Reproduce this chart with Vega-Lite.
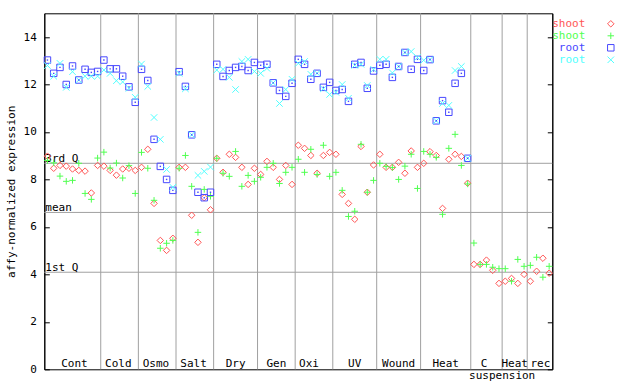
{
  "$schema": "https://vega.github.io/schema/vega-lite/v6.json",
  "width": 508,
  "height": 356,
  "autosize": {"type": "none"},
  "padding": {"left": 44.3, "top": 13.3, "right": 87.7, "bottom": 14.7},
  "background": "white",
  "config": {
    "view": {"stroke": "black", "strokeWidth": 1},
    "font": "DejaVu Sans Mono",
    "text": {"font": "DejaVu Sans Mono", "fontSize": 11}
  },
  "datasets": {
    "bounds": [{"b": 9.5}, {"b": 15.5}, {"b": 21.5}, {"b": 27.5}, {"b": 34.5}, {"b": 40.5}, {"b": 46.5}, {"b": 53.5}, {"b": 60.5}, {"b": 68.5}, {"b": 73.5}, {"b": 77.5}],
    "refs": [{"q": "3rd Q", "v": 8.68}, {"q": "mean", "v": 6.61}, {"q": "1st Q", "v": 4.09}],
    "groups": [{"g": "Cont", "c": 5.3}, {"g": "Cold", "c": 12.3}, {"g": "Osmo", "c": 18.3}, {"g": "Salt", "c": 24.3}, {"g": "Dry", "c": 31}, {"g": "Gen", "c": 37.5}, {"g": "Oxi", "c": 42.7}, {"g": "UV", "c": 50}, {"g": "Wound", "c": 57}, {"g": "Heat", "c": 64.5}, {"g": "C", "c": 70.6}, {"g": "Heat", "c": 75.5}, {"g": "rec", "c": 79.6}],
    "sub": [{"g": "suspension", "c": 73.5}],
    "expr": [
      {"i":1,"s":"shoot1","v":8.98},{"i":1,"s":"shoot2","v":8.8},{"i":1,"s":"root1","v":13.03},{"i":1,"s":"root2","v":12.8},
      {"i":2,"s":"shoot1","v":8.47},{"i":2,"s":"shoot2","v":8.7},{"i":2,"s":"root1","v":12.47},{"i":2,"s":"root2","v":12.35},
      {"i":3,"s":"shoot1","v":8.59},{"i":3,"s":"shoot2","v":8.14},{"i":3,"s":"root1","v":12.72},{"i":3,"s":"root2","v":12.89},
      {"i":4,"s":"shoot1","v":8.56},{"i":4,"s":"shoot2","v":7.92},{"i":4,"s":"root1","v":12.0},{"i":4,"s":"root2","v":11.88},
      {"i":5,"s":"shoot1","v":8.44},{"i":5,"s":"shoot2","v":7.96},{"i":5,"s":"root1","v":12.78},{"i":5,"s":"root2","v":12.54},
      {"i":6,"s":"shoot1","v":8.38},{"i":6,"s":"shoot2","v":8.68},{"i":6,"s":"root1","v":12.19},{"i":6,"s":"root2","v":12.19},
      {"i":7,"s":"shoot1","v":8.35},{"i":7,"s":"shoot2","v":7.41},{"i":7,"s":"root1","v":12.64},{"i":7,"s":"root2","v":12.35},
      {"i":8,"s":"shoot1","v":7.43},{"i":8,"s":"shoot2","v":7.16},{"i":8,"s":"root1","v":12.51},{"i":8,"s":"root2","v":12.35},
      {"i":9,"s":"shoot1","v":8.59},{"i":9,"s":"shoot2","v":8.9},{"i":9,"s":"root1","v":12.55},{"i":9,"s":"root2","v":12.35},
      {"i":10,"s":"shoot1","v":8.56},{"i":10,"s":"shoot2","v":9.15},{"i":10,"s":"root1","v":13.03},{"i":10,"s":"root2","v":12.61},
      {"i":11,"s":"shoot1","v":8.38},{"i":11,"s":"shoot2","v":8.48},{"i":11,"s":"root1","v":12.66},{"i":11,"s":"root2","v":12.47},
      {"i":12,"s":"shoot1","v":8.18},{"i":12,"s":"shoot2","v":8.69},{"i":12,"s":"root1","v":12.66},{"i":12,"s":"root2","v":12.16},
      {"i":13,"s":"shoot1","v":8.44},{"i":13,"s":"shoot2","v":8.06},{"i":13,"s":"root1","v":12.35},{"i":13,"s":"root2","v":12.11},
      {"i":14,"s":"shoot1","v":8.47},{"i":14,"s":"shoot2","v":8.58},{"i":14,"s":"root1","v":11.9},{"i":14,"s":"root2","v":11.84},
      {"i":15,"s":"shoot1","v":8.38},{"i":15,"s":"shoot2","v":7.41},{"i":15,"s":"root1","v":11.25},{"i":15,"s":"root2","v":11.46},
      {"i":16,"s":"shoot1","v":8.51},{"i":16,"s":"shoot2","v":9.14},{"i":16,"s":"root1","v":12.64},{"i":16,"s":"root2","v":12.86},
      {"i":17,"s":"shoot1","v":9.27},{"i":17,"s":"shoot2","v":8.47},{"i":17,"s":"root1","v":12.17},{"i":17,"s":"root2","v":11.92},
      {"i":18,"s":"shoot1","v":6.99},{"i":18,"s":"shoot2","v":7.12},{"i":18,"s":"root1","v":9.69},{"i":18,"s":"root2","v":10.61},
      {"i":19,"s":"shoot1","v":5.43},{"i":19,"s":"shoot2","v":5.1},{"i":19,"s":"root1","v":8.55},{"i":19,"s":"root2","v":9.69},
      {"i":20,"s":"shoot1","v":5.01},{"i":20,"s":"shoot2","v":5.31},{"i":20,"s":"root1","v":8.0},{"i":20,"s":"root2","v":8.42},
      {"i":21,"s":"shoot1","v":5.52},{"i":21,"s":"shoot2","v":5.43},{"i":21,"s":"root1","v":7.54},{"i":21,"s":"root2","v":7.67},
      {"i":22,"s":"shoot1","v":8.51},{"i":22,"s":"shoot2","v":8.47},{"i":22,"s":"root1","v":12.54},{"i":22,"s":"root2","v":12.47},
      {"i":23,"s":"shoot1","v":8.51},{"i":23,"s":"shoot2","v":9.01},{"i":23,"s":"root1","v":11.92},{"i":23,"s":"root2","v":11.82},
      {"i":24,"s":"shoot1","v":6.49},{"i":24,"s":"shoot2","v":7.71},{"i":24,"s":"root1","v":9.88},{"i":24,"s":"root2","v":9.88},
      {"i":25,"s":"shoot1","v":5.35},{"i":25,"s":"shoot2","v":5.77},{"i":25,"s":"root1","v":7.46},{"i":25,"s":"root2","v":8.17},
      {"i":26,"s":"shoot1","v":7.23},{"i":26,"s":"shoot2","v":7.58},{"i":26,"s":"root1","v":7.23},{"i":26,"s":"root2","v":8.34},
      {"i":27,"s":"shoot1","v":6.72},{"i":27,"s":"shoot2","v":7.29},{"i":27,"s":"root1","v":7.46},{"i":27,"s":"root2","v":8.52},
      {"i":28,"s":"shoot1","v":8.89},{"i":28,"s":"shoot2","v":8.89},{"i":28,"s":"root1","v":12.85},{"i":28,"s":"root2","v":12.61},
      {"i":29,"s":"shoot1","v":8.3},{"i":29,"s":"shoot2","v":8.26},{"i":29,"s":"root1","v":12.34},{"i":29,"s":"root2","v":12.64},
      {"i":30,"s":"shoot1","v":9.06},{"i":30,"s":"shoot2","v":8.13},{"i":30,"s":"root1","v":12.59},{"i":30,"s":"root2","v":12.3},
      {"i":31,"s":"shoot1","v":8.93},{"i":31,"s":"shoot2","v":9.18},{"i":31,"s":"root1","v":12.72},{"i":31,"s":"root2","v":11.79},
      {"i":32,"s":"shoot1","v":8.51},{"i":32,"s":"shoot2","v":7.71},{"i":32,"s":"root1","v":12.76},{"i":32,"s":"root2","v":12.97},
      {"i":33,"s":"shoot1","v":7.79},{"i":33,"s":"shoot2","v":8.17},{"i":33,"s":"root1","v":12.59},{"i":33,"s":"root2","v":13.06},
      {"i":34,"s":"shoot1","v":8.47},{"i":34,"s":"shoot2","v":7.92},{"i":34,"s":"root1","v":12.93},{"i":34,"s":"root2","v":12.55},
      {"i":35,"s":"shoot1","v":8.21},{"i":35,"s":"shoot2","v":8.09},{"i":35,"s":"root1","v":12.81},{"i":35,"s":"root2","v":12.47},
      {"i":36,"s":"shoot1","v":8.76},{"i":36,"s":"shoot2","v":8.51},{"i":36,"s":"root1","v":12.85},{"i":36,"s":"root2","v":12.68},
      {"i":37,"s":"shoot1","v":8.51},{"i":37,"s":"shoot2","v":8.68},{"i":37,"s":"root1","v":12.07},{"i":37,"s":"root2","v":12.07},
      {"i":38,"s":"shoot1","v":8.0},{"i":38,"s":"shoot2","v":7.83},{"i":38,"s":"root1","v":11.75},{"i":38,"s":"root2","v":11.2},
      {"i":39,"s":"shoot1","v":8.59},{"i":39,"s":"shoot2","v":8.3},{"i":39,"s":"root1","v":11.5},{"i":39,"s":"root2","v":11.79},
      {"i":40,"s":"shoot1","v":7.79},{"i":40,"s":"shoot2","v":8.51},{"i":40,"s":"root1","v":12.05},{"i":40,"s":"root2","v":12.22},
      {"i":41,"s":"shoot1","v":9.44},{"i":41,"s":"shoot2","v":8.85},{"i":41,"s":"root1","v":13.06},{"i":41,"s":"root2","v":12.89},
      {"i":42,"s":"shoot1","v":9.31},{"i":42,"s":"shoot2","v":8.3},{"i":42,"s":"root1","v":12.85},{"i":42,"s":"root2","v":12.97},
      {"i":43,"s":"shoot1","v":9.01},{"i":43,"s":"shoot2","v":9.27},{"i":43,"s":"root1","v":12.22},{"i":43,"s":"root2","v":12.43},
      {"i":44,"s":"shoot1","v":8.26},{"i":44,"s":"shoot2","v":8.21},{"i":44,"s":"root1","v":12.47},{"i":44,"s":"root2","v":12.47},
      {"i":45,"s":"shoot1","v":9.01},{"i":45,"s":"shoot2","v":9.44},{"i":45,"s":"root1","v":11.88},{"i":45,"s":"root2","v":11.82},
      {"i":46,"s":"shoot1","v":9.14},{"i":46,"s":"shoot2","v":8.13},{"i":46,"s":"root1","v":12.09},{"i":46,"s":"root2","v":11.58},
      {"i":47,"s":"shoot1","v":9.06},{"i":47,"s":"shoot2","v":8.3},{"i":47,"s":"root1","v":11.75},{"i":47,"s":"root2","v":11.67},
      {"i":48,"s":"shoot1","v":7.37},{"i":48,"s":"shoot2","v":7.54},{"i":48,"s":"root1","v":11.79},{"i":48,"s":"root2","v":12.0},
      {"i":49,"s":"shoot1","v":6.99},{"i":49,"s":"shoot2","v":6.44},{"i":49,"s":"root1","v":11.29},{"i":49,"s":"root2","v":11.42},
      {"i":50,"s":"shoot1","v":6.32},{"i":50,"s":"shoot2","v":6.66},{"i":50,"s":"root1","v":12.85},{"i":50,"s":"root2","v":12.81},
      {"i":51,"s":"shoot1","v":9.39},{"i":51,"s":"shoot2","v":9.48},{"i":51,"s":"root1","v":12.93},{"i":51,"s":"root2","v":12.85},
      {"i":52,"s":"shoot1","v":7.46},{"i":52,"s":"shoot2","v":7.46},{"i":52,"s":"root1","v":11.84},{"i":52,"s":"root2","v":11.96},
      {"i":53,"s":"shoot1","v":8.61},{"i":53,"s":"shoot2","v":7.96},{"i":53,"s":"root1","v":12.57},{"i":53,"s":"root2","v":12.64},
      {"i":54,"s":"shoot1","v":9.06},{"i":54,"s":"shoot2","v":8.68},{"i":54,"s":"root1","v":12.81},{"i":54,"s":"root2","v":13.06},
      {"i":55,"s":"shoot1","v":8.51},{"i":55,"s":"shoot2","v":8.55},{"i":55,"s":"root1","v":12.85},{"i":55,"s":"root2","v":13.06},
      {"i":56,"s":"shoot1","v":8.51},{"i":56,"s":"shoot2","v":8.5},{"i":56,"s":"root1","v":12.3},{"i":56,"s":"root2","v":12.49},
      {"i":57,"s":"shoot1","v":8.72},{"i":57,"s":"shoot2","v":8.0},{"i":57,"s":"root1","v":12.76},{"i":57,"s":"root2","v":12.76},
      {"i":58,"s":"shoot1","v":8.26},{"i":58,"s":"shoot2","v":8.56},{"i":58,"s":"root1","v":13.35},{"i":58,"s":"root2","v":13.35},
      {"i":59,"s":"shoot1","v":9.2},{"i":59,"s":"shoot2","v":9.06},{"i":59,"s":"root1","v":12.64},{"i":59,"s":"root2","v":13.39},
      {"i":60,"s":"shoot1","v":8.51},{"i":60,"s":"shoot2","v":7.62},{"i":60,"s":"root1","v":13.06},{"i":60,"s":"root2","v":13.14},
      {"i":61,"s":"shoot1","v":8.68},{"i":61,"s":"shoot2","v":9.18},{"i":61,"s":"root1","v":12.59},{"i":61,"s":"root2","v":13.02},
      {"i":62,"s":"shoot1","v":9.17},{"i":62,"s":"shoot2","v":9.06},{"i":62,"s":"root1","v":13.05},{"i":62,"s":"root2","v":13.05},
      {"i":63,"s":"shoot1","v":9.01},{"i":63,"s":"shoot2","v":8.93},{"i":63,"s":"root1","v":10.47},{"i":63,"s":"root2","v":10.47},
      {"i":64,"s":"shoot1","v":6.78},{"i":64,"s":"shoot2","v":6.53},{"i":64,"s":"root1","v":11.32},{"i":64,"s":"root2","v":11.2},
      {"i":65,"s":"shoot1","v":8.85},{"i":65,"s":"shoot2","v":9.31},{"i":65,"s":"root1","v":10.83},{"i":65,"s":"root2","v":11.12},
      {"i":66,"s":"shoot1","v":9.06},{"i":66,"s":"shoot2","v":9.9},{"i":66,"s":"root1","v":12.05},{"i":66,"s":"root2","v":12.59},
      {"i":67,"s":"shoot1","v":8.97},{"i":67,"s":"shoot2","v":8.59},{"i":67,"s":"root1","v":12.47},{"i":67,"s":"root2","v":12.76},
      {"i":68,"s":"shoot1","v":7.84},{"i":68,"s":"shoot2","v":7.81},{"i":68,"s":"root1","v":8.89},{"i":68,"s":"root2","v":8.89},
      {"i":69,"s":"shoot1","v":4.42},{"i":69,"s":"shoot2","v":5.32},
      {"i":70,"s":"shoot1","v":4.42},{"i":70,"s":"shoot2","v":4.42},
      {"i":71,"s":"shoot1","v":4.6},{"i":71,"s":"shoot2","v":4.42},
      {"i":72,"s":"shoot1","v":4.17},{"i":72,"s":"shoot2","v":4.3},
      {"i":73,"s":"shoot1","v":3.62},{"i":73,"s":"shoot2","v":4.24},
      {"i":74,"s":"shoot1","v":3.71},{"i":74,"s":"shoot2","v":4.24},
      {"i":75,"s":"shoot1","v":3.83},{"i":75,"s":"shoot2","v":3.71},
      {"i":76,"s":"shoot1","v":3.62},{"i":76,"s":"shoot2","v":4.63},
      {"i":77,"s":"shoot1","v":4.0},{"i":77,"s":"shoot2","v":4.34},
      {"i":78,"s":"shoot1","v":3.71},{"i":78,"s":"shoot2","v":4.38},
      {"i":79,"s":"shoot1","v":4.13},{"i":79,"s":"shoot2","v":4.72},
      {"i":80,"s":"shoot1","v":4.68},{"i":80,"s":"shoot2","v":3.88},
      {"i":81,"s":"shoot1","v":4.05},{"i":81,"s":"shoot2","v":4.34}
    ]
  },
  "resolve": {"axis": {"y": "independent"}},
  "layer": [
    {
      "data": {"name": "bounds"},
      "mark": {"type": "rule", "color": "#a0a0a0", "strokeWidth": 1},
      "encoding": {
        "x": {"field": "b", "type": "quantitative", "scale": {"domain": [0.5, 81.5], "nice": false, "zero": false}, "axis": null}
      }
    },
    {
      "data": {"name": "refs"},
      "mark": {"type": "rule", "color": "#a0a0a0", "strokeWidth": 1},
      "encoding": {
        "y": {"field": "v", "type": "quantitative", "scale": {"domain": [0, 15], "nice": false, "zero": true},
          "axis": {"orient": "right", "values": [0, 2, 4, 6, 8, 10, 12, 14], "labels": false, "grid": false, "domain": true, "domainColor": "black", "ticks": true, "tickSize": -5, "tickColor": "black", "title": null}}
      }
    },
    {
      "data": {"name": "refs"},
      "mark": {"type": "text", "align": "left", "baseline": "alphabetic", "dx": 1, "dy": -1.5, "color": "black", "font": "DejaVu Sans Mono", "fontSize": 11},
      "encoding": {
        "x": {"datum": 0.5, "type": "quantitative", "axis": null},
        "y": {"field": "v", "type": "quantitative", "axis": null},
        "text": {"field": "q"}
      }
    },
    {
      "data": {"name": "groups"},
      "mark": {"type": "text", "align": "center", "baseline": "alphabetic", "dy": -2, "color": "black", "font": "DejaVu Sans Mono", "fontSize": 11},
      "encoding": {
        "x": {"field": "c", "type": "quantitative", "axis": null},
        "y": {"datum": 0, "type": "quantitative", "axis": null},
        "text": {"field": "g"}
      }
    },
    {
      "data": {"name": "sub"},
      "mark": {"type": "text", "align": "center", "baseline": "alphabetic", "dy": 10, "color": "black", "font": "DejaVu Sans Mono", "fontSize": 11},
      "encoding": {
        "x": {"field": "c", "type": "quantitative", "axis": null},
        "y": {"datum": 0, "type": "quantitative", "axis": null},
        "text": {"field": "g"}
      }
    },
    {
      "data": {"name": "expr"},
      "mark": {"type": "point", "filled": false, "strokeWidth": 1, "size": 42, "opacity": 1},
      "encoding": {
        "x": {"field": "i", "type": "quantitative", "axis": null},
        "y": {"field": "v", "type": "quantitative",
          "axis": {"orient": "left", "values": [0, 2, 4, 6, 8, 10, 12, 14], "grid": false, "domain": true, "domainColor": "black", "ticks": true, "tickSize": -5, "tickColor": "black", "labelPadding": 13, "labelFont": "DejaVu Sans Mono", "labelFontSize": 11, "labelColor": "black", "title": "affy-normalized expression", "titleFont": "DejaVu Sans Mono", "titleFontSize": 11, "titleFontWeight": "normal", "titleColor": "black", "titleX": -33, "titleY": 178, "titleAngle": -90, "titleAlign": "center", "titleBaseline": "middle"}},
        "color": {"field": "s", "type": "nominal",
          "scale": {"domain": ["shoot1", "shoot2", "root1", "root2"], "range": ["#ff5555", "#50ff50", "#4848ff", "#50ffff"]},
          "legend": {"orient": "none", "legendX": 561, "legendY": 5, "title": null, "labelFont": "DejaVu Sans Mono", "labelFontSize": 11, "labelAlign": "right", "labelOffset": -31, "rowPadding": 0, "symbolSize": 42, "symbolStrokeWidth": 1, "padding": 0,
            "labelExpr": "indexof(datum.label, 'shoot') >= 0 ? 'shoot' : 'root'",
            "labelColor": {"expr": "scale('color', datum.value)"}}},
        "shape": {"field": "s", "type": "nominal",
          "scale": {"domain": ["shoot1", "shoot2", "root1", "root2"], "range": ["diamond", "M-1,0L1,0M0,-1L0,1", "square", "M-1,-1L1,1M-1,1L1,-1"]}}
      }
    },
    {
      "data": {"name": "expr"},
      "transform": [{"filter": "datum.s == 'root1'"}],
      "mark": {"type": "square", "size": 2, "color": "#4848ff", "opacity": 1},
      "encoding": {
        "x": {"field": "i", "type": "quantitative", "axis": null},
        "y": {"field": "v", "type": "quantitative", "axis": null}
      }
    }
  ]
}
